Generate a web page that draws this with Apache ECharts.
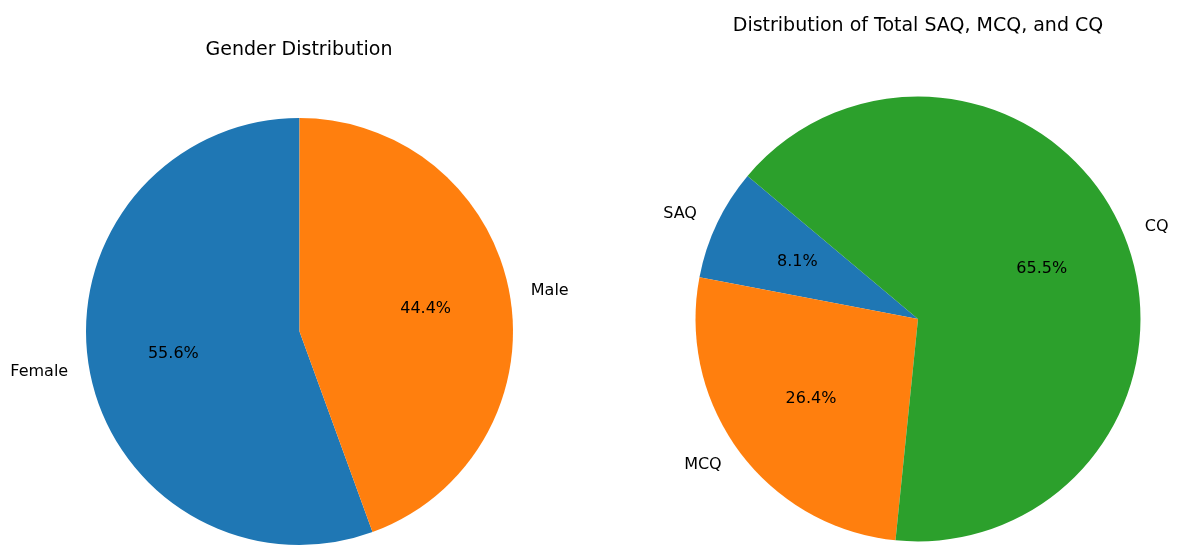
<!DOCTYPE html>
<html>
<head>
<meta charset="utf-8">
<script src="https://cdn.jsdelivr.net/npm/echarts@6/dist/echarts.min.js"></script>
<style>
html,body{margin:0;padding:0;background:#fff;}
#chart{width:1179px;height:547px;}
</style>
</head>
<body>
<div id="chart"></div>
<script>
// Data
var genderLabels = ['Female', 'Male'];
var genderValues = [25, 20];
var questionLabels = ['SAQ', 'MCQ', 'CQ'];
var questionValues = [8.1, 26.4, 65.5];
var titles = ['Gender Distribution', 'Distribution of Total SAQ, MCQ, and CQ'];
var colorsGender = ['#1f77b4', '#ff7f0e'];
var colorsQuestion = ['#1f77b4', '#ff7f0e', '#2ca02c'];

var FONT = 'DejaVu Sans';
var LABEL_SIZE = 16;
var TITLE_SIZE = 19;

function makeData(labels, values) {
  return labels.map(function (l, i) { return { name: l, value: values[i] }; });
}
function pctFormatter(values) {
  var sum = values.reduce(function (a, b) { return a + b; }, 0);
  return function (p) { return (p.value / sum * 100).toFixed(1) + '%'; };
}

function pieSeries(labels, values, colors, center, R, startAngle) {
  var data = makeData(labels, values);
  return [
    {
      type: 'pie',
      center: center,
      radius: [0, R],
      startAngle: startAngle,
      clockwise: false,
      avoidLabelOverlap: false,
      animation: false,
      silent: true,
      color: colors,
      itemStyle: { borderWidth: 0 },
      label: {
        show: true,
        position: 'outside',
        distanceToLabelLine: 0,
        color: '#000',
        fontFamily: FONT,
        fontSize: LABEL_SIZE,
        formatter: '{b}'
      },
      labelLine: { show: false, length: R * 0.1, length2: 0 },
      emphasis: { disabled: true },
      data: data
    },
    {
      type: 'pie',
      center: center,
      radius: [R * 0.2 - 6, R],
      startAngle: startAngle,
      clockwise: false,
      avoidLabelOverlap: false,
      animation: false,
      silent: true,
      itemStyle: { color: 'rgba(0,0,0,0)', borderWidth: 0 },
      label: {
        show: true,
        position: 'inside',
        color: '#000',
        fontFamily: FONT,
        fontSize: LABEL_SIZE,
        formatter: pctFormatter(values)
      },
      labelLine: { show: false },
      emphasis: { disabled: true },
      data: data
    }
  ];
}

var chart = echarts.init(document.getElementById('chart'), null, { renderer: 'canvas' });
chart.setOption({
  backgroundColor: '#fff',
  title: [
    { text: titles[0], left: 299, top: 41, padding: 0, textAlign: 'center',
      textStyle: { fontFamily: FONT, fontSize: TITLE_SIZE, fontWeight: 'normal', color: '#000' } },
    { text: titles[1], left: 918, top: 17, padding: 0, textAlign: 'center',
      textStyle: { fontFamily: FONT, fontSize: TITLE_SIZE, fontWeight: 'normal', color: '#000' } }
  ],
  series: [].concat(
    pieSeries(genderLabels, genderValues, colorsGender, [299.5, 331.5], 213.5, 90),
    pieSeries(questionLabels, questionValues, colorsQuestion, [918, 319], 222.5, 140)
  )
});
</script>
</body>
</html>
